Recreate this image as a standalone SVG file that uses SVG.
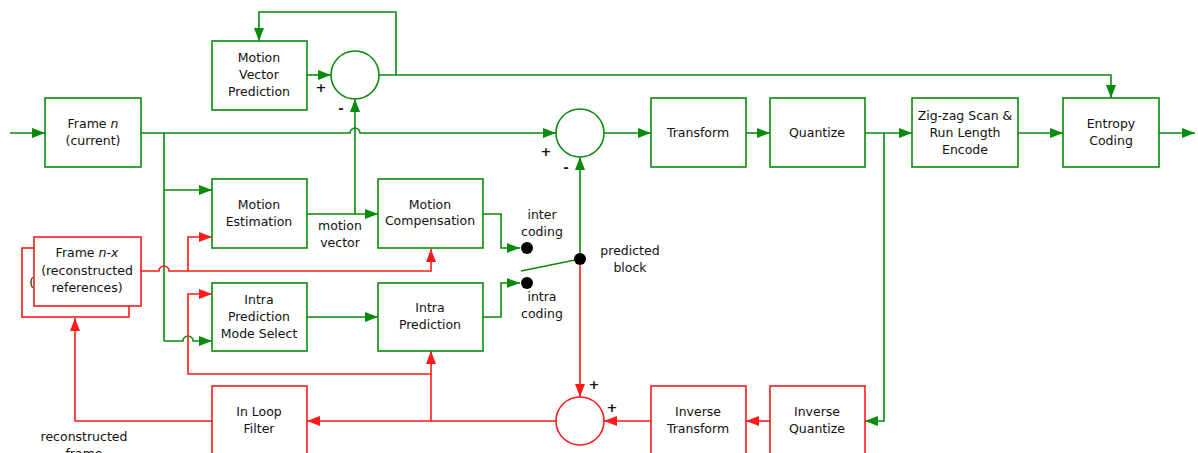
<svg xmlns="http://www.w3.org/2000/svg" width="1198" height="453" viewBox="0 0 1198 453">
  <style>
    .g { fill: none; stroke: #0a8a0a; stroke-width: 1.6; }
    .r { fill: none; stroke: #ff1a1a; stroke-width: 1.6; }
    .gb { fill: #fff; stroke: #0a8a0a; stroke-width: 1.6; }
    .rb { fill: #fff; stroke: #ff1a1a; stroke-width: 1.6; }
    text { font-family: "DejaVu Sans", Verdana, sans-serif; font-size: 12.5px; fill: #111; text-anchor: middle; }
    .sign { font-weight: bold; font-size: 13px; }
  </style>
  <defs>
    <marker id="ag" markerUnits="userSpaceOnUse" markerWidth="14" markerHeight="12" refX="13" refY="5" orient="auto">
      <path d="M0,0 L13,5 L0,10 z" fill="#0a8a0a"/>
    </marker>
    <marker id="ar" markerUnits="userSpaceOnUse" markerWidth="14" markerHeight="12" refX="13" refY="5" orient="auto">
      <path d="M0,0 L13,5 L0,10 z" fill="#ff1a1a"/>
    </marker>
    <!-- area of the rear reference card that is not covered by the front card -->
    <clipPath id="rear-visible">
      <path clip-rule="evenodd" d="M0,230 H160 V330 H0 z M33,236 H142 V307 H33 z"/>
    </clipPath>
  </defs>

  <!-- connectors -->
  <g id="connectors">
    <!-- forward (green) paths -->
    <path class="g" d="M10,133 H45" marker-end="url(#ag)"/>
    <path class="g" d="M141,133 H350 a5,5 0 0 1 10,0 H556" marker-end="url(#ag)"/>
    <path class="g" d="M164,133 V341"/>
    <path class="g" d="M164,190 H212" marker-end="url(#ag)"/>
    <path class="g" d="M164,341 H183 a5,5 0 0 1 10,0 H212" marker-end="url(#ag)"/>
    <path class="g" d="M307,214 H378" marker-end="url(#ag)"/>
    <path class="g" d="M355,214 V99" marker-end="url(#ag)"/>
    <path class="g" d="M307,75 H331" marker-end="url(#ag)"/>
    <path class="g" d="M378,75 H1111 V98" marker-end="url(#ag)"/>
    <path class="g" d="M396,75 V12 H259 V41" marker-end="url(#ag)"/>
    <path class="g" d="M307,317 H378" marker-end="url(#ag)"/>
    <path class="g" d="M483,214 H501 V248 H520" marker-end="url(#ag)"/>
    <path class="g" d="M483,317 H501 V283 H520" marker-end="url(#ag)"/>
    <path class="g" d="M521,271 L580,259"/>
    <path class="g" d="M580,259 V157" marker-end="url(#ag)"/>
    <path class="g" d="M604,133 H651" marker-end="url(#ag)"/>
    <path class="g" d="M746,133 H770" marker-end="url(#ag)"/>
    <path class="g" d="M865,133 H912" marker-end="url(#ag)"/>
    <path class="g" d="M884,133 V421 H865" marker-end="url(#ag)"/>
    <path class="g" d="M1018,133 H1063" marker-end="url(#ag)"/>
    <path class="g" d="M1159,133 H1195" marker-end="url(#ag)"/>

    <!-- reconstruction (red) paths -->
    <path class="r" d="M770,421 H746" marker-end="url(#ar)"/>
    <path class="r" d="M651,421 H604" marker-end="url(#ar)"/>
    <path class="r" d="M580,259 V397" marker-end="url(#ar)"/>
    <path class="r" d="M556,421 H307" marker-end="url(#ar)"/>
    <path class="r" d="M431,421 V351" marker-end="url(#ar)"/>
    <path class="r" d="M431,374 H188 V294 H212" marker-end="url(#ar)"/>
    <path class="r" d="M212,421 H75 V318" marker-end="url(#ar)"/>
    <path class="r" d="M141,271 H159 a5,5 0 0 1 10,0 H431 V249" marker-end="url(#ar)"/>
    <path class="r" d="M188,271 V237 H212" marker-end="url(#ar)"/>
  </g>

  <!-- nodes -->
  <g id="frame-n">
    <rect class="gb" x="45" y="98" width="96" height="69"/>
    <text x="93" y="128">Frame <tspan font-style="italic">n</tspan></text>
    <text x="93" y="145">(current)</text>
  </g>

  <g id="mv-prediction">
    <rect class="gb" x="212" y="41" width="95" height="69"/>
    <text x="259" y="62">Motion</text>
    <text x="259" y="79">Vector</text>
    <text x="259" y="96">Prediction</text>
  </g>

  <g id="mv-diff">
    <circle class="gb" cx="355" cy="75" r="24"/>
    <text class="sign" x="321" y="92">+</text>
    <text class="sign" x="341" y="113">-</text>
  </g>

  <g id="residual-diff">
    <circle class="gb" cx="580" cy="133" r="24"/>
    <text class="sign" x="546" y="156">+</text>
    <text class="sign" x="566" y="172">-</text>
  </g>

  <g id="motion-estimation">
    <rect class="gb" x="212" y="179" width="95" height="69"/>
    <text x="259" y="209">Motion</text>
    <text x="259" y="226">Estimation</text>
  </g>

  <g id="motion-vector-label">
    <text x="340" y="230">motion</text>
    <text x="340" y="247">vector</text>
  </g>

  <g id="motion-compensation">
    <rect class="gb" x="378" y="179" width="105" height="69"/>
    <text x="430" y="209">Motion</text>
    <text x="430" y="225">Compensation</text>
  </g>

  <g id="frame-n-x">
    <!-- rear card of the reference stack -->
    <rect class="rb" x="22" y="248" width="107" height="69"/>
    <g clip-path="url(#rear-visible)">
      <text x="75" y="287">(reconstructed</text>
      <text x="75" y="304">references)</text>
    </g>
    <!-- front card -->
    <rect class="rb" x="34" y="237" width="107" height="69"/>
    <text x="87" y="257">Frame <tspan font-style="italic">n-x</tspan></text>
    <text x="87" y="275">(reconstructed</text>
    <text x="87" y="292">references)</text>
  </g>

  <g id="intra-mode-select">
    <rect class="gb" x="212" y="283" width="95" height="68"/>
    <text x="259" y="304">Intra</text>
    <text x="259" y="321">Prediction</text>
    <text x="259" y="338">Mode Select</text>
  </g>

  <g id="intra-prediction">
    <rect class="gb" x="378" y="283" width="105" height="68"/>
    <text x="430" y="312">Intra</text>
    <text x="430" y="329">Prediction</text>
  </g>

  <g id="switch">
    <circle cx="527" cy="248" r="6" fill="#000"/>
    <circle cx="527" cy="283" r="6" fill="#000"/>
    <circle cx="580" cy="259" r="6" fill="#000"/>
    <text x="542" y="219">inter</text>
    <text x="542" y="236">coding</text>
    <text x="542" y="301">intra</text>
    <text x="542" y="318">coding</text>
    <text x="630" y="255">predicted</text>
    <text x="630" y="272">block</text>
  </g>

  <g id="transform">
    <rect class="gb" x="651" y="98" width="95" height="69"/>
    <text x="698" y="137">Transform</text>
  </g>

  <g id="quantize">
    <rect class="gb" x="770" y="98" width="95" height="69"/>
    <text x="817" y="137">Quantize</text>
  </g>

  <g id="zigzag">
    <rect class="gb" x="912" y="98" width="106" height="69"/>
    <text x="965" y="120">Zig-zag Scan &amp;</text>
    <text x="965" y="137">Run Length</text>
    <text x="965" y="154">Encode</text>
  </g>

  <g id="entropy-coding">
    <rect class="gb" x="1063" y="98" width="96" height="69"/>
    <text x="1111" y="128">Entropy</text>
    <text x="1111" y="145">Coding</text>
  </g>

  <g id="recon-sum">
    <circle class="rb" cx="580" cy="421" r="24"/>
    <text class="sign" x="594" y="389">+</text>
    <text class="sign" x="612" y="412">+</text>
  </g>

  <g id="inverse-transform">
    <rect class="rb" x="651" y="386" width="95" height="80"/>
    <text x="698" y="416">Inverse</text>
    <text x="698" y="433">Transform</text>
  </g>

  <g id="inverse-quantize">
    <rect class="rb" x="770" y="386" width="95" height="80"/>
    <text x="817" y="416">Inverse</text>
    <text x="817" y="433">Quantize</text>
  </g>

  <g id="loop-filter">
    <rect class="rb" x="212" y="386" width="95" height="80"/>
    <text x="259" y="416">In Loop</text>
    <text x="259" y="433">Filter</text>
  </g>

  <g id="reconstructed-label">
    <text x="84" y="441">reconstructed</text>
    <text x="84" y="458">frame</text>
  </g>
</svg>
